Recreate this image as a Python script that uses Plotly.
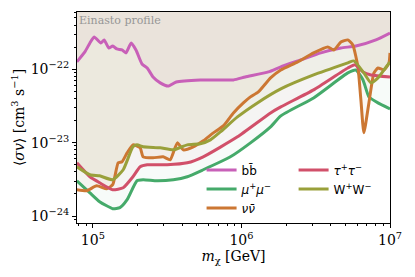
import plotly.graph_objects as go

# ---- data (mass in GeV, <sigma v> in cm^3 s^-1) ----
m_bb = [7.8e4, 8.83e4, 9.55e4, 1.02e5, 1.13e5, 1.19e5, 1.28e5, 1.36e5, 1.45e5, 1.57e5, 1.67e5,
        1.81e5, 1.95e5, 2.14e5, 2.32e5, 2.54e5, 2.84e5, 3.21e5, 3.64e5, 5.28e5, 8.83e5, 1.06e6,
        1.52e6, 1.84e6, 2.51e6, 3.42e6, 4.67e6, 5.89e6, 8.04e6, 1.0e7]
sv_bb = [1.26e-22, 1.72e-22, 2.28e-22, 2.75e-22, 2.28e-22, 2.51e-22, 1.95e-22, 2.07e-22, 1.89e-22,
         1.83e-22, 1.67e-22, 2.28e-22, 1.83e-22, 1.18e-22, 1.04e-22, 7.85e-23, 6.52e-23, 5.9e-23,
         6.71e-23, 7.15e-23, 7.15e-23, 7.85e-23, 9.19e-23, 1.08e-22, 1.34e-22, 1.67e-22, 1.95e-22,
         2.07e-22, 2.51e-22, 3.12e-22]

m_mumu = [7.8e4, 9.55e4, 1.11e5, 1.36e5, 1.52e5, 1.70e5, 1.98e5, 2.18e5, 2.70e5, 3.48e5, 4.32e5,
          5.53e5, 8.43e5, 1.15e6, 1.57e6, 1.84e6, 3.06e6, 5.20e6, 5.89e6, 6.58e6, 7.21e6, 8.30e6, 1.0e7]
sv_mumu = [3.02e-24, 2.07e-24, 1.57e-24, 1.26e-24, 1.30e-24, 1.67e-24, 3.02e-24, 3.12e-24, 3.02e-24,
           3.12e-24, 3.43e-24, 4.27e-24, 6.41e-24, 9.93e-24, 1.64e-23, 2.32e-23, 4.07e-23, 8.91e-23,
           9.77e-23, 7.15e-23, 4.20e-23, 3.48e-23, 2.88e-23]

m_nunu = [7.8e4, 9.10e4, 1.06e5, 1.24e5, 1.36e5, 1.48e5, 1.57e5, 1.70e5, 1.86e5, 2.08e5, 2.18e5,
          2.54e5, 2.97e5, 3.31e5, 3.70e5, 4.06e5, 4.74e5, 5.53e5, 6.47e5, 7.55e5, 8.83e5, 1.03e6,
          1.15e6, 1.30e6, 1.57e6, 1.84e6, 2.39e6, 3.06e6, 3.81e6, 4.19e6, 4.67e6, 5.20e6, 5.62e6,
          6.08e6, 6.37e6, 6.67e6, 7.21e6, 7.80e6, 8.30e6, 9.10e6, 9.84e6, 1.0e7]
sv_nunu = [2.28e-24, 2.21e-24, 2.58e-24, 2.35e-24, 2.67e-24, 5.31e-24, 5.48e-24, 7.26e-24, 9.33e-24,
           8.50e-24, 6.41e-24, 6.21e-24, 6.41e-24, 5.83e-24, 9.93e-24, 7.98e-24, 8.77e-24, 1.06e-23,
           1.36e-23, 1.69e-23, 2.54e-23, 3.48e-23, 4.20e-23, 4.91e-23, 7.62e-23, 9.77e-23, 1.26e-22,
           1.67e-22, 2.01e-22, 1.83e-22, 2.35e-22, 2.51e-22, 2.14e-22, 1.08e-22, 3.82e-23, 1.36e-23,
           3.48e-23, 8.91e-23, 1.04e-22, 9.77e-23, 1.22e-22, 1.67e-22]

m_tautau = [7.8e4, 9.55e4, 1.11e5, 1.36e5, 1.60e5, 1.86e5, 2.08e5, 2.32e5, 3.16e5, 4.32e5, 5.53e5,
            9.40e5, 1.57e6, 1.84e6, 3.06e6, 5.20e6, 5.81e6, 6.58e6, 7.45e6, 1.0e7]
sv_tautau = [5.31e-24, 3.43e-24, 2.84e-24, 2.28e-24, 2.43e-24, 3.43e-24, 4.69e-24, 4.99e-24, 4.99e-24,
             5.31e-24, 6.41e-24, 1.20e-23, 2.54e-23, 3.07e-23, 5.23e-23, 1.04e-22, 1.15e-22, 9.19e-23,
             8.36e-23, 7.85e-23]

m_ww = [7.8e4, 9.55e4, 1.11e5, 1.36e5, 1.60e5, 1.86e5, 1.98e5, 2.18e5, 2.84e5, 3.48e5, 4.32e5,
        5.28e5, 6.18e5, 7.21e5, 9.40e5, 1.28e6, 1.84e6, 3.06e6, 5.20e6, 5.71e6, 6.67e6, 7.45e6,
        8.30e6, 9.10e6, 1.0e7]
sv_ww = [4.69e-24, 3.65e-24, 3.53e-24, 3.12e-24, 4.27e-24, 8.77e-24, 9.33e-24, 8.77e-24, 8.50e-24,
         7.98e-24, 9.33e-24, 9.64e-24, 1.09e-23, 1.40e-23, 2.24e-23, 3.48e-23, 5.40e-23, 8.36e-23,
         1.22e-22, 1.30e-22, 8.91e-23, 6.52e-23, 7.62e-23, 9.77e-23, 1.26e-22]

channels = ["bb", "mumu", "nunu", "tautau", "ww"]
labels = {"bb": "bb\u0304", "mumu": "<i>\u03bc</i><sup>+</sup><i>\u03bc</i><sup>\u2212</sup>",
          "nunu": "<i>\u03bd\u03bd\u0304</i>", "tautau": "<i>\u03c4</i><sup>+</sup><i>\u03c4</i><sup>\u2212</sup>",
          "ww": "W<sup>+</sup>W<sup>\u2212</sup>"}
colors = {"bb": (200, 96, 184), "mumu": (69, 170, 106), "nunu": (204, 119, 51),
          "tautau": (209, 80, 106), "ww": (153, 160, 58)}
fill_alpha = {"bb": 0.035, "mumu": 0.045, "nunu": 0.055, "tautau": 0.04, "ww": 0.055}
data = {"bb": (m_bb, sv_bb), "mumu": (m_mumu, sv_mumu), "nunu": (m_nunu, sv_nunu),
        "tautau": (m_tautau, sv_tautau), "ww": (m_ww, sv_ww)}
legend_of = {"bb": "legend", "mumu": "legend", "nunu": "legend", "tautau": "legend2", "ww": "legend2"}

TOP = 1e-20  # fill up beyond the top of the axis

fig = go.Figure()
# shaded excluded regions (above each curve)
for ch in channels:
    m, sv = data[ch]
    r, g, b = colors[ch]
    fig.add_trace(go.Scatter(
        x=list(m) + list(m)[::-1], y=list(sv) + [TOP] * len(m),
        fill="toself", mode="none", fillcolor=f"rgba({r},{g},{b},{fill_alpha[ch]})",
        showlegend=False, hoverinfo="skip"))
# lines
for ch in channels:
    m, sv = data[ch]
    r, g, b = colors[ch]
    fig.add_trace(go.Scatter(
        x=m, y=sv, mode="lines", name=labels[ch],
        line=dict(color=f"rgb({r},{g},{b})", width=3, shape="spline", smoothing=0.5),
        legend=legend_of[ch]))

xt = [1e5, 1e6, 1e7]
xt_text = ["10<sup>5</sup>", "10<sup>6</sup>", "10<sup>7</sup>"]
yt = [1e-24, 1e-23, 1e-22]
yt_text = ["10<sup>\u221224</sup>", "10<sup>\u221223</sup>", "10<sup>\u221222</sup>"]
x_minor = [k * 10 ** e for e in (4, 5, 6) for k in range(2, 10)]
y_minor = [k * 10 ** e for e in (-25, -24, -23, -22) for k in range(2, 10)]

serif = "DejaVu Serif"
axis_common = dict(type="log", showgrid=False, zeroline=False, showline=True, linecolor="black",
                   linewidth=1, mirror=True, ticks="outside", ticklen=4, tickcolor="black",
                   automargin=False, ticklabeloverflow="allow",
                   tickfont=dict(family=serif, size=14, color="black"))
leg_common = dict(xanchor="left", yanchor="top", bgcolor="rgba(0,0,0,0)",
                  font=dict(family="DejaVu Sans", size=12, color="black"), tracegroupgap=0,
                  itemwidth=30)
fig.update_layout(
    template="none",
    width=415, height=277,
    margin=dict(l=77, r=25, t=12, b=54),
    paper_bgcolor="white", plot_bgcolor="white",
    xaxis=dict(axis_common, range=[4.893, 7.0], tickvals=xt, ticktext=xt_text,
               minor=dict(tickvals=x_minor, ticks="outside", ticklen=2, tickcolor="black"),
               title=dict(text="<i>m</i><sub>\u03c7</sub> [GeV]", font=dict(family=serif, size=14, color="black"),
                          standoff=4)),
    yaxis=dict(axis_common, range=[-24.095, -21.22], tickvals=yt, ticktext=yt_text,
               minor=dict(tickvals=y_minor, ticks="outside", ticklen=2, tickcolor="black"),
               title=dict(text="\u27e8<i>\u03c3v</i>\u27e9 [cm<sup>3</sup> s<sup>\u22121</sup>]",
                          font=dict(family=serif, size=14, color="black"), standoff=2)),
    legend=dict(leg_common, x=0.398, y=0.32),
    legend2=dict(leg_common, x=0.692, y=0.32),
    annotations=[dict(text="Einasto profile", xref="paper", yref="paper", x=0.0, y=1.0,
                      xanchor="left", yanchor="top", showarrow=False,
                      font=dict(family=serif, size=11, color="rgb(150,150,150)"))],
)

fig.write_html("out.html", config={"displayModeBar": False},
               post_script="document.body.style.margin='0';")
